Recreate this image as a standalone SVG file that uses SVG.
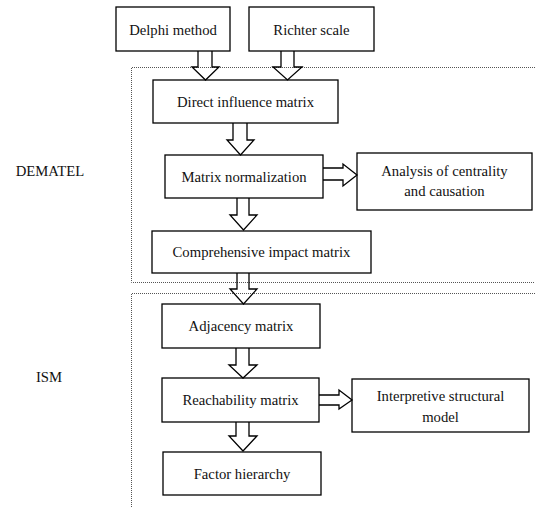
<svg xmlns="http://www.w3.org/2000/svg" width="535" height="507" viewBox="0 0 535 507">
<style>
.box{fill:#fff;stroke:#000;stroke-width:1.3}
.t{font-family:"Liberation Serif","Times New Roman",serif;font-size:14.7px;fill:#111;text-anchor:middle}
.dot{fill:none;stroke:#555;stroke-width:1;stroke-dasharray:1 1}
.arr{fill:none;stroke:#000;stroke-width:1.3;stroke-linejoin:miter}
</style>
<rect width="535" height="507" fill="#fff"/>
<g id="regions">
<path class="dot" d="M535,67.5 H131.5 V282.5 H535"/>
<path class="dot" d="M535,293.5 H131.5 V507"/>
<text class="t" x="50" y="176">DEMATEL</text>
<text class="t" x="49" y="382">ISM</text>
</g>
<g id="delphi"><rect class="box" x="116" y="7" width="114" height="44"/><text class="t" x="173" y="34.5">Delphi method</text></g>
<g id="richter"><rect class="box" x="249" y="7" width="125" height="44"/><text class="t" x="311.5" y="34.5">Richter scale</text></g>
<g id="direct"><rect class="box" x="153" y="80" width="185" height="43"/><text class="t" x="245.5" y="106.5">Direct influence matrix</text></g>
<g id="normalization"><rect class="box" x="165" y="155" width="158" height="43"/><text class="t" x="244" y="181.5">Matrix normalization</text></g>
<g id="analysis"><rect class="box" x="357" y="153" width="175" height="57"/><text class="t" x="444.5" y="176">Analysis of centrality</text><text class="t" x="444.5" y="196">and causation</text></g>
<g id="comprehensive"><rect class="box" x="152" y="231" width="219" height="42"/><text class="t" x="261.5" y="257">Comprehensive impact matrix</text></g>
<g id="adjacency"><rect class="box" x="162" y="304" width="158" height="44"/><text class="t" x="241" y="331">Adjacency matrix</text></g>
<g id="reachability"><rect class="box" x="162" y="378" width="157" height="44"/><text class="t" x="240.5" y="405">Reachability matrix</text></g>
<g id="interpretive"><rect class="box" x="352" y="379" width="177" height="53"/><text class="t" x="440.5" y="401">Interpretive structural</text><text class="t" x="440.5" y="422">model</text></g>
<g id="factor"><rect class="box" x="163" y="452" width="158" height="43"/><text class="t" x="242" y="478.5">Factor hierarchy</text></g>
<g id="connectors">
<path class="arr" d="M198,51 V67 H192 L205.5,80 L219,67 H212 V51"/>
<path class="arr" d="M281,51 V67 H273 L287.5,80 L302,67 H294 V51"/>
<path class="arr" d="M233,123 V140 H227 L240.5,155 L254,140 H247 V123"/>
<path class="arr" d="M237,198 V215 H230 L243.5,230 L257,215 H249 V198"/>
<path class="arr" d="M237,273 V289 H230 L243.5,304 L257,289 H249 V273"/>
<path class="arr" d="M236,348 V365 H229 L243,378 L257,365 H249 V348"/>
<path class="arr" d="M236,422 V436 H229 L243,451 L257,436 H249 V422"/>
<path class="arr" d="M323,168 H343 V164 L357,175 L343,186 V180 H323"/>
<path class="arr" d="M319,395 H339 V390 L352,400 L339,409 V405 H319"/>
</g>
</svg>
